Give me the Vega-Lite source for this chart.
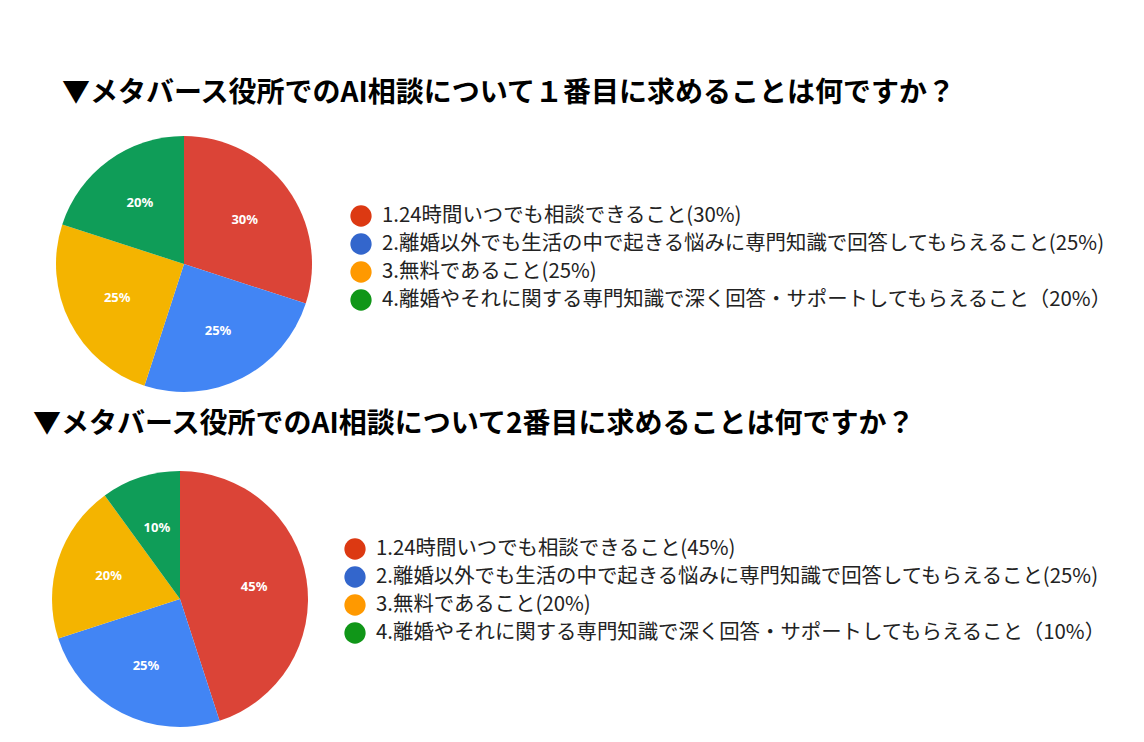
{
  "$schema": "https://vega.github.io/schema/vega-lite/v6.json",
  "background": "white",
  "padding": {"left": 33, "top": 80, "right": 5, "bottom": 5},
  "config": {"view": {"stroke": null}},
  "datasets": {
    "q1": [
      {"label": "1.24時間いつでも相談できること", "value": 0.30, "legend": "1.24時間いつでも相談できること(30%)"},
      {"label": "2.離婚以外でも生活の中で起きる悩みに専門知識で回答してもらえること", "value": 0.25, "legend": "2.離婚以外でも生活の中で起きる悩みに専門知識で回答してもらえること(25%)"},
      {"label": "3.無料であること", "value": 0.25, "legend": "3.無料であること(25%)"},
      {"label": "4.離婚やそれに関する専門知識で深く回答・サポートしてもらえること", "value": 0.20, "legend": "4.離婚やそれに関する専門知識で深く回答・サポートしてもらえること（20%）"}
    ],
    "q2": [
      {"label": "1.24時間いつでも相談できること", "value": 0.45, "legend": "1.24時間いつでも相談できること(45%)"},
      {"label": "2.離婚以外でも生活の中で起きる悩みに専門知識で回答してもらえること", "value": 0.25, "legend": "2.離婚以外でも生活の中で起きる悩みに専門知識で回答してもらえること(25%)"},
      {"label": "3.無料であること", "value": 0.20, "legend": "3.無料であること(20%)"},
      {"label": "4.離婚やそれに関する専門知識で深く回答・サポートしてもらえること", "value": 0.10, "legend": "4.離婚やそれに関する専門知識で深く回答・サポートしてもらえること（10%）"}
    ]
  },
  "spacing": 19,
  "vconcat": [
    {
      "title": {"text": "▼メタバース役所でのAI相談について１番目に求めることは何ですか？", "anchor": "start", "dx": 10, "offset": 28, "fontSize": 28, "font": "Noto Sans CJK JP", "fontWeight": "bold", "color": "#000000"},
      "spacing": 34,
      "hconcat": [
        {
          "data": {"name": "q1"},
          "width": 264,
          "height": 256,
          "layer": [
            {
              "mark": {"type": "arc", "outerRadius": 128},
              "encoding": {
                "theta": {"field": "value", "type": "quantitative", "stack": true},
                "order": {"field": "label", "type": "nominal"},
                "color": {"field": "label", "type": "nominal", "legend": null,
                  "scale": {"domain": ["1.24時間いつでも相談できること", "2.離婚以外でも生活の中で起きる悩みに専門知識で回答してもらえること", "3.無料であること", "4.離婚やそれに関する専門知識で深く回答・サポートしてもらえること"],
                            "range": ["#DB4437", "#4285F4", "#F4B400", "#0F9D58"]}}
              }
            },
            {
              "mark": {"type": "text", "radius": 75, "fill": "white", "fontWeight": "bold", "fontSize": 13, "font": "Noto Sans"},
              "encoding": {
                "theta": {"field": "value", "type": "quantitative", "stack": true},
                "order": {"field": "label", "type": "nominal"},
                "text": {"field": "value", "type": "quantitative", "format": ".0%"}
              }
            }
          ]
        },
        {
          "data": {"name": "q1"},
          "width": 700,
          "height": 256,
          "layer": [
            {
              "mark": {"type": "point", "filled": true, "shape": "circle", "size": 452, "opacity": 1},
              "encoding": {
                "x": {"datum": 0, "type": "quantitative", "scale": {"domain": [0, 1]}, "axis": null},
                "y": {"field": "label", "type": "nominal", "axis": null, "scale": {"type": "point", "range": [80, 164], "padding": 0}},
                "fill": {"field": "label", "type": "nominal", "legend": null,
                  "scale": {"domain": ["1.24時間いつでも相談できること", "2.離婚以外でも生活の中で起きる悩みに専門知識で回答してもらえること", "3.無料であること", "4.離婚やそれに関する専門知識で深く回答・サポートしてもらえること"],
                            "range": ["#DC3912", "#3366CC", "#FF9900", "#109618"]}}
              }
            },
            {
              "mark": {"type": "text", "align": "left", "baseline": "middle", "dx": 21, "fontSize": 20.4, "font": "Noto Sans CJK JP", "color": "#222222"},
              "encoding": {
                "x": {"datum": 0, "type": "quantitative", "scale": {"domain": [0, 1]}, "axis": null},
                "y": {"field": "label", "type": "nominal", "axis": null},
                "text": {"field": "legend", "type": "nominal"}
              }
            }
          ]
        }
      ]
    },
    {
      "title": {"text": "▼メタバース役所でのAI相談について2番目に求めることは何ですか？", "anchor": "start", "dx": -19, "offset": 32, "fontSize": 28, "font": "Noto Sans CJK JP", "fontWeight": "bold", "color": "#000000"},
      "spacing": 36,
      "hconcat": [
        {
          "data": {"name": "q2"},
          "width": 256,
          "height": 256,
          "layer": [
            {
              "mark": {"type": "arc", "outerRadius": 128},
              "encoding": {
                "theta": {"field": "value", "type": "quantitative", "stack": true},
                "order": {"field": "label", "type": "nominal"},
                "color": {"field": "label", "type": "nominal", "legend": null,
                  "scale": {"domain": ["1.24時間いつでも相談できること", "2.離婚以外でも生活の中で起きる悩みに専門知識で回答してもらえること", "3.無料であること", "4.離婚やそれに関する専門知識で深く回答・サポートしてもらえること"],
                            "range": ["#DB4437", "#4285F4", "#F4B400", "#0F9D58"]}}
              }
            },
            {
              "mark": {"type": "text", "radius": 75, "fill": "white", "fontWeight": "bold", "fontSize": 13, "font": "Noto Sans"},
              "encoding": {
                "theta": {"field": "value", "type": "quantitative", "stack": true},
                "order": {"field": "label", "type": "nominal"},
                "text": {"field": "value", "type": "quantitative", "format": ".0%"}
              }
            }
          ]
        },
        {
          "data": {"name": "q2"},
          "width": 700,
          "height": 256,
          "layer": [
            {
              "mark": {"type": "point", "filled": true, "shape": "circle", "size": 452, "opacity": 1},
              "encoding": {
                "x": {"datum": 0, "type": "quantitative", "scale": {"domain": [0, 1]}, "axis": null},
                "y": {"field": "label", "type": "nominal", "axis": null, "scale": {"type": "point", "range": [78, 162], "padding": 0}},
                "fill": {"field": "label", "type": "nominal", "legend": null,
                  "scale": {"domain": ["1.24時間いつでも相談できること", "2.離婚以外でも生活の中で起きる悩みに専門知識で回答してもらえること", "3.無料であること", "4.離婚やそれに関する専門知識で深く回答・サポートしてもらえること"],
                            "range": ["#DC3912", "#3366CC", "#FF9900", "#109618"]}}
              }
            },
            {
              "mark": {"type": "text", "align": "left", "baseline": "middle", "dx": 21, "fontSize": 20.4, "font": "Noto Sans CJK JP", "color": "#222222"},
              "encoding": {
                "x": {"datum": 0, "type": "quantitative", "scale": {"domain": [0, 1]}, "axis": null},
                "y": {"field": "label", "type": "nominal", "axis": null},
                "text": {"field": "legend", "type": "nominal"}
              }
            }
          ]
        }
      ]
    }
  ]
}
